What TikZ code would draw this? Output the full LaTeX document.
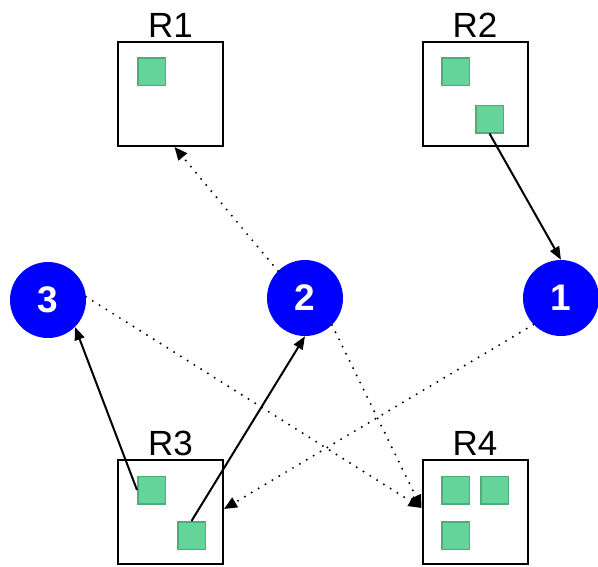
\documentclass[tikz,border=0pt]{standalone}
\usepackage{fontspec}
\setmainfont{Liberation Sans}
\usetikzlibrary{arrows.meta}
\definecolor{boxgreen}{RGB}{102,211,153}
\definecolor{edgegreen}{RGB}{80,170,122}
\begin{document}
\begin{tikzpicture}[
	x=1pt, y=-1pt,
	font=\fontsize{35}{40}\selectfont,
	region/.style={draw,line width=2pt,minimum width=105pt,minimum height=104pt,inner sep=0pt,
		label={[label distance=3pt,inner sep=0pt]above:#1}},
	item/.style={draw=edgegreen,fill=boxgreen,line width=1.5pt,minimum size=27.5pt,inner sep=0pt},
	worker/.style={circle,fill=blue,text=white,font=\fontsize{37}{42}\selectfont\bfseries,
		minimum size=76pt,inner sep=0pt},
	move/.style={line width=2pt,-{Triangle[length=13pt,width=10pt]}},
	probe/.style={line width=2.2pt,line cap=round,dash pattern=on 0pt off 8pt,
		-{Triangle[length=13pt,width=11pt]}},
	]
\useasboundingbox (0,0) rectangle (598,566);

% regions and their items
\node [region=R1] (r1) at (170.5,94) {};
\node [region=R2] (r2) at (475,94) {};
\node [region=R3] (r3) at (170.5,512) {};
\node [region=R4] (r4) at (475,512) {};

\node [item] (r1a) at (151.5,71.5) {};
\node [item] (r2a) at (455.5,71.5) {};
\node [item] (r2b) at (489.5,119) {};
\node [item] (r3a) at (151.5,490) {};
\node [item] (r3b) at (191.5,535.5) {};
\node [item] (r4a) at (455.5,490) {};
\node [item] (r4b) at (494.5,490) {};
\node [item] (r4c) at (455.5,535.5) {};

% workers
\node [worker] (w3) at (48,300) {3};
\node [worker] (w2) at (305,298) {2};
\node [worker] (w1) at (561,298) {1};

% moves
\draw [move] (r2b.south) -- (w1.north);
\draw [move] (r3a.west) -- (w3.-45);
\draw [move] (r3b.north) -- (w2.south);

% probes
\draw [probe] (w2.135) -- ([xshift=4pt]r1.south);
\draw [probe] (w2.-45) -- ([yshift=4pt]r4.west);
\draw [probe] (w3.5) -- ([yshift=4pt]r4.west);
\draw [probe] (w1.-136) -- ([yshift=3pt]r3.east);
\end{tikzpicture}
\end{document}
